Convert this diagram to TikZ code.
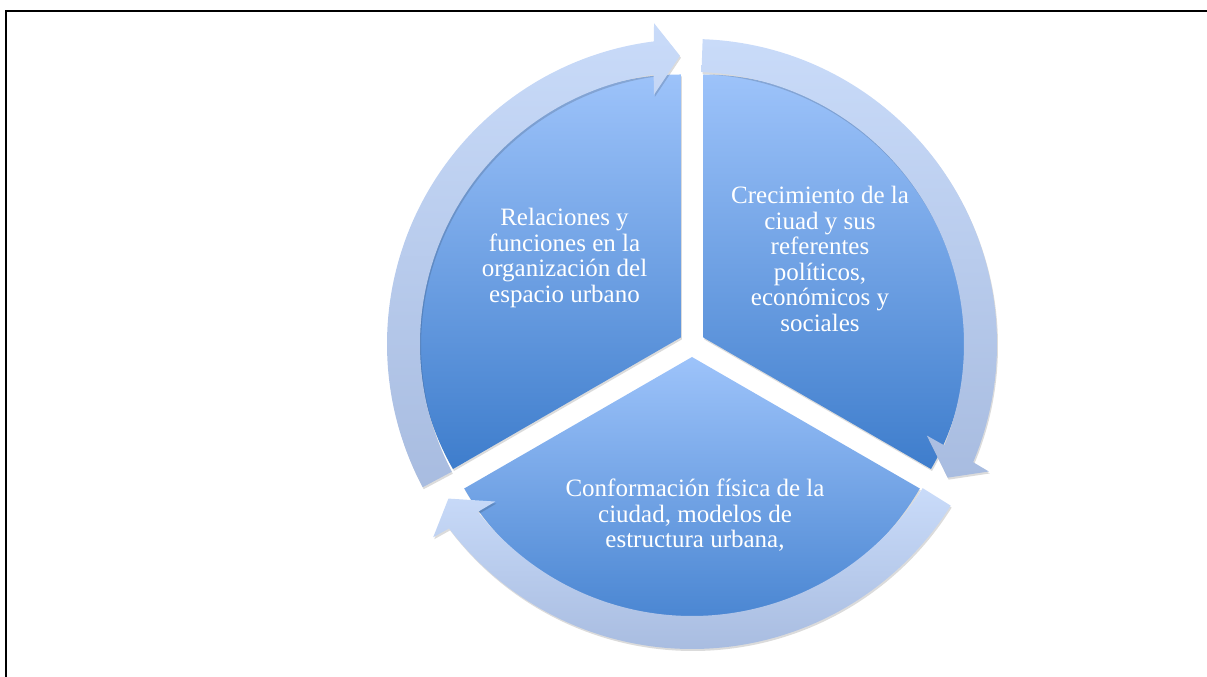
\documentclass[tikz,border=0pt]{standalone}
\usepackage{fontspec}
\setmainfont{Liberation Serif}
\usetikzlibrary{shadows}
\definecolor{segtop}{RGB}{157,195,250}
\definecolor{segbot}{RGB}{62,125,204}
\definecolor{bandtop}{RGB}{201,219,249}
\definecolor{bandbot}{RGB}{168,188,224}

\begin{document}
\begin{tikzpicture}[x=1pt, y=1pt,
    sector/.style={top color=segtop, bottom color=segbot,
      drop shadow={shadow xshift=1pt, shadow yshift=-2pt, opacity=0.14, fill=black}},
    band/.style={top color=bandtop, bottom color=bandbot,
      drop shadow={shadow xshift=1pt, shadow yshift=-2pt, opacity=0.14, fill=black}},
    segtext/.style={text=white, align=center,
      font=\fontsize{25}{25.5}\selectfont}]
      \useasboundingbox (0,0) rectangle (1207,677);
      \draw[line width=2pt] (1207,666) -- (6,666) -- (6,0);

      \coordinate (C) at (692,333);

      \begin{scope}[shift={(C)}]
        \foreach \b [evaluate=\b as \s using \b-60,
                     evaluate=\b as \e using \b+60] in {150,30,270}
          \path[sector] (\b:13) -- ++(\s:263)
            arc[start angle=\s, end angle=\e, radius=263] -- cycle;

        \foreach \r [evaluate=\r as \a using 208+\r,
                     evaluate=\r as \h using 97.2+\r,
                     evaluate=\r as \k using 98.1+\r,
                     evaluate=\r as \u using 96.75+\r,
                     evaluate=\r as \v using 98.7+\r,
                     evaluate=\r as \t using 92.4+\r] in {0,-120,120}
          \path[band] (\a:305) arc[start angle=\a, end angle=\h, radius=305]
            -- (\u:323) -- (\t:288.5) -- (\v:252) -- (\k:272)
            arc[start angle=\k, end angle=\a, radius=272] -- cycle;
      \end{scope}

      \node[segtext] (relaciones) at (564.5,419)
        {Relaciones y\\funciones en la\\organización del\\espacio urbano};
      \node[segtext] (crecimiento) at (820,418)
        {Crecimiento de la\\ciuad y sus\\referentes\\políticos,\\económicos y\\sociales};
      \node[segtext] (conformacion) at (695,161.5)
        {Conformación física de la\\ciudad, modelos de\\estructura urbana,};
\end{tikzpicture}
\end{document}
